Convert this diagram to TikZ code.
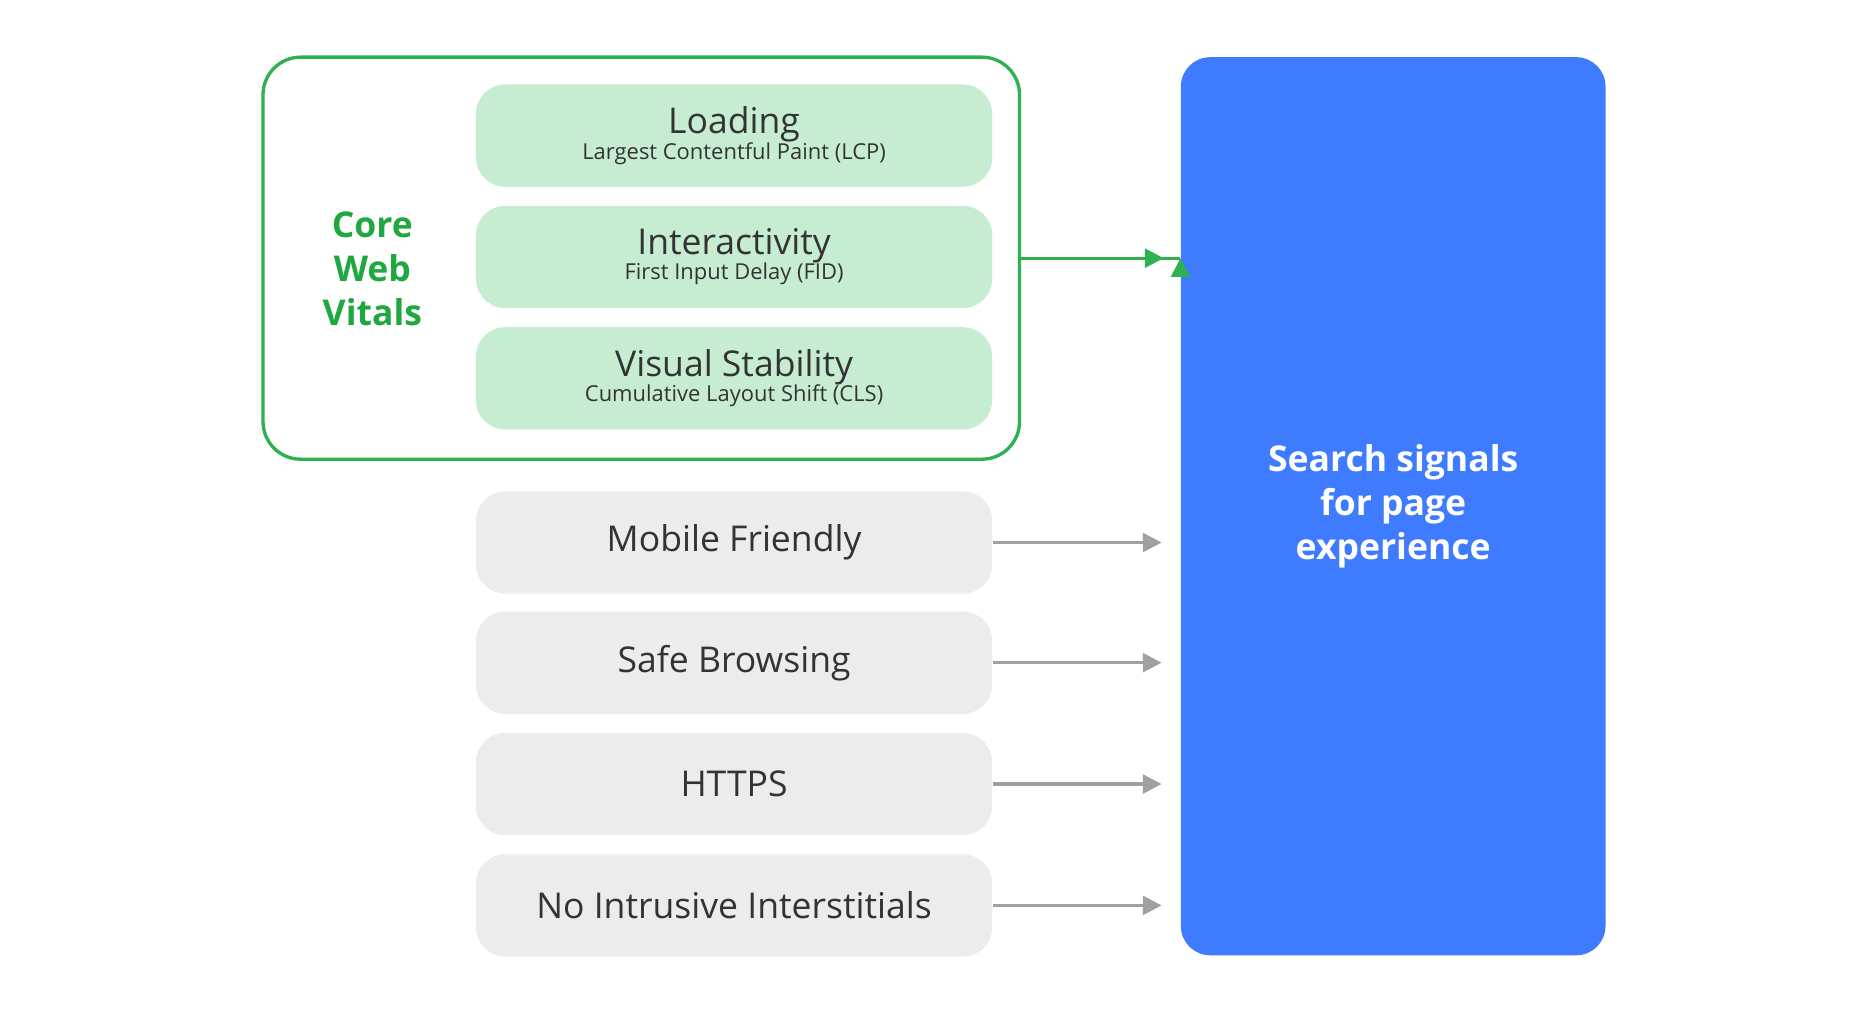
\documentclass[tikz,border=0pt]{standalone}
\usepackage{fontspec}
\setmainfont{Open Sans}
\usetikzlibrary{arrows.meta,positioning}
\definecolor{cwvgreen}{HTML}{2DB24F}
\definecolor{cwvtext}{HTML}{1FA83F}
\definecolor{cwvfill}{HTML}{C6EDD2}
\definecolor{sigfill}{HTML}{ECECEC}
\definecolor{sigblue}{HTML}{3F7BFF}
\definecolor{arrgray}{HTML}{A0A0A0}
\tikzset{
  metric/.style={rounded corners=14pt,fill=cwvfill,minimum width=8.68cm,minimum height=1.72cm,align=center,text=black!80},
  signal/.style={rounded corners=14pt,fill=sigfill,minimum width=8.68cm,minimum height=1.72cm,font=\fontsize{17}{20}\selectfont,text=black!80},
  feed/.style={-{Triangle[length=9pt,width=9pt]},line width=1.5pt,draw=arrgray}
}
\newcommand{\metrictext}[2]{{\fontsize{17}{20}\selectfont #1}\\[-1pt]{\fontsize{10.5}{13}\selectfont #2}}
\begin{document}
\begin{tikzpicture}[x=0.02cm,y=-0.02cm]
  \useasboundingbox (0,0) rectangle (1560,852);
  \node[draw=cwvgreen,line width=1.6pt,rounded corners=18pt,minimum width=12.72cm,minimum height=6.76cm] (cwv) at (539,217) {};
  \node[metric] (lcp) at (617,114) {\metrictext{Loading}{Largest Contentful Paint (LCP)}};
  \node[metric] (fid) at (617,216) {\metrictext{Interactivity}{First Input Delay (FID)}};
  \node[metric] (cls) at (617,318) {\metrictext{Visual Stability}{Cumulative Layout Shift (CLS)}};
  \node[text=cwvtext,font=\fontsize{17}{21}\selectfont\bfseries,align=center] (title) at (313,226) {Core\\Web\\Vitals};

  \node[signal] (mobile) at (617,456) {Mobile Friendly};
  \node[signal] (safe) at (617,557) {Safe Browsing};
  \node[signal] (https) at (617,659) {HTTPS};
  \node[signal] (inter) at (617,761) {No Intrusive Interstitials};

  \node[fill=sigblue,rounded corners=14pt,minimum width=7.14cm,minimum height=15.1cm,text=white,align=center,font=\fontsize{17}{21}\selectfont\bfseries] (page) at (1171,425.5) {Search signals\\for page\\experience};

  \draw[feed,draw=cwvgreen,-{Triangle[length=9pt,width=9pt]},cwvgreen] (cwv.east) -- (cwv.east -| page.west) ++(0,0);
  \foreach \s in {mobile,safe,https,inter}
    \draw[feed,arrgray,shorten >=9pt] (\s.east) -- (\s.east -| page.west);
  \draw[feed,cwvgreen,shorten >=8pt] (cwv.east) -- (cwv.east -| page.west);
\end{tikzpicture}
\end{document}
